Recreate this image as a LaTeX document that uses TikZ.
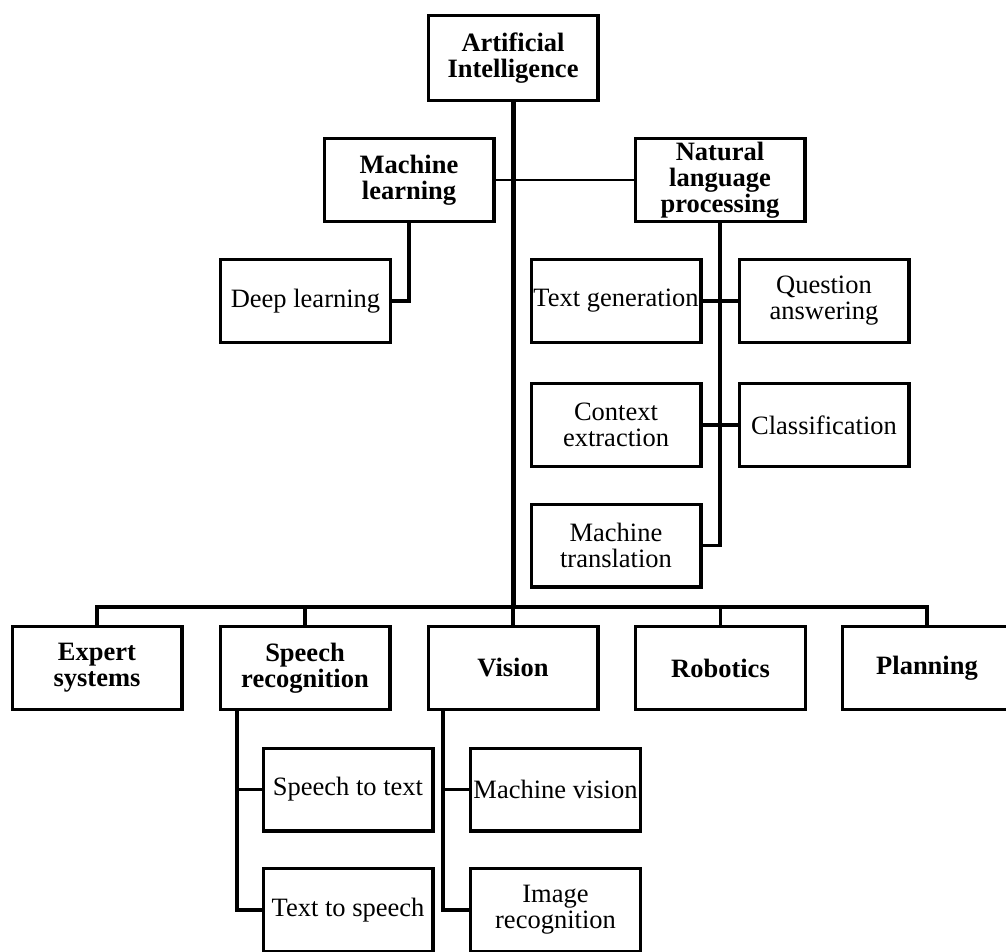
\documentclass[tikz,border=0pt]{standalone}
\usepackage{fontspec}
\setmainfont{Liberation Serif}
\begin{document}
\begin{tikzpicture}[x=1pt,y=-1pt,
  box/.style={draw, line width=3.4pt, minimum width=169.6pt, minimum height=82.6pt,
    inner sep=0pt, align=center, font=\fontsize{26.5}{26}\selectfont},
  boldbox/.style={box, font=\fontsize{26.5}{26}\selectfont\bfseries},
  link/.style={line width=3.2pt},
  thinlink/.style={line width=2.4pt},
  trunk/.style={line width=5pt},
  buslink/.style={line width=4pt}]
\useasboundingbox (0,0) rectangle (1006,952);
\clip (0,0) rectangle (1006,952);

% nodes
\node[boldbox, minimum height=84.6pt] (ai) at (513,58) {Artificial\\Intelligence};
\node[boldbox] (ml) at (409,180) {Machine\\learning};
\node[boldbox] (nlp) at (720,180) {Natural\\language\\processing};
\node[box] (dl) at (305.5,301) {Deep learning};
\node[box] (tg) at (616,301) {Text generation};
\node[box] (qa) at (824,301) {Question\\answering};
\node[box] (ce) at (616,425) {Context\\extraction};
\node[box] (cl) at (824,425) {Classification};
\node[box] (mt) at (616,545.5) {Machine\\translation};
\node[boldbox] (ex) at (97,668) {Expert\\systems};
\node[boldbox] (sr) at (305,668) {Speech\\recognition};
\node[boldbox] (vi) at (513,668) {Vision};
\node[boldbox] (ro) at (720.5,668) {Robotics};
\node[boldbox] (pl) at (927,668) {Planning};
\node[box] (st) at (348,789.5) {Speech to text};
\node[box] (mv) at (555.5,789.5) {Machine vision};
\node[box] (ts) at (348,910) {Text to speech};
\node[box] (ir) at (555.5,910) {Image\\recognition};

\coordinate (bus) at (513,607);

% ML - NLP
\draw[thinlink] (ml.east) -- (nlp.west);
% trunk
\draw[trunk] (ai.south) -- (bus);
% ML -> Deep learning
\draw[link] (ml.south) |- (dl.east);
% NLP branches
\draw[link] (nlp.south) |- (mt.east);
\draw[link] (tg.east) -- (qa.west);
\draw[link] (ce.east) -- (cl.west);
% bus
\draw[link] (ex.north) |- (bus);
\draw[link] (pl.north) |- (bus);
\draw[buslink] (sr.north |- bus) -- (ro.north |- bus);
\draw[link] (sr.north) -- (sr.north |- bus);
\draw[link] (ro.north) -- (ro.north |- bus);
\draw[link] (vi.north) -- (bus);
% Speech recognition children
\draw[link] ([xshift=-68pt]sr.south) |- (ts.west);
\draw[link] ([xshift=-68pt]sr.south |- st.west) -- (st.west);
% Vision children
\draw[link] ([xshift=-70pt]vi.south) |- (ir.west);
\draw[link] ([xshift=-70pt]vi.south |- mv.west) -- (mv.west);
\end{tikzpicture}
\end{document}
